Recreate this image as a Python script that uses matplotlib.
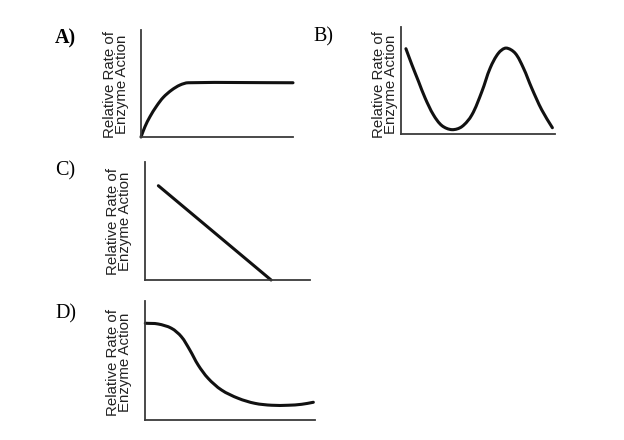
import matplotlib
matplotlib.use("Agg")
import matplotlib.pyplot as plt
import numpy as np
from matplotlib.path import Path
from matplotlib.patches import PathPatch

W, H = 624, 440

# curve shapes (x, y as fraction of each plot box)
a_x = [0.0, 0.026, 0.059, 0.103, 0.147, 0.202, 0.257, 0.311, 1.0]
a_y = [0.0, 0.096, 0.190, 0.290, 0.371, 0.439, 0.486, 0.507, 0.507]

b_x = [0.032, 0.071, 0.114, 0.157, 0.211, 0.266, 0.331, 0.395, 0.460,
       0.525, 0.579, 0.633, 0.682, 0.741, 0.795, 0.849, 0.914, 0.983]
b_y = [0.798, 0.648, 0.493, 0.338, 0.182, 0.082, 0.045, 0.073, 0.182,
       0.399, 0.618, 0.757, 0.804, 0.757, 0.618, 0.431, 0.229, 0.063]

c_x = [0.081, 0.764]
c_y = [0.799, 0.0]

d_x = [0.0, 0.075, 0.154, 0.213, 0.263, 0.312, 0.371, 0.450, 0.549,
       0.647, 0.746, 0.844, 0.923, 0.992]
d_y = [0.813, 0.807, 0.771, 0.700, 0.588, 0.462, 0.350, 0.252, 0.182,
       0.140, 0.124, 0.124, 0.132, 0.149]

labels = ["A)", "B)", "C)", "D)"]
ylabel = "Relative Rate of\nEnzyme Action"

# pixel boxes: left, top, right, bottom ; label pos ; ylabel center
panels = [
    ((141, 30, 293, 137), (55, 28), (116, 84), a_x, a_y, "bold"),
    ((401, 27, 555, 134.5), (313, 27), (385, 84), b_x, b_y, "normal"),
    ((145, 162, 310, 280), (55, 161), (119, 221), c_x, c_y, "normal"),
    ((145.3, 301, 314.7, 420), (55, 304), (119, 362), d_x, d_y, "normal"),
]


def smooth_path(xs, ys, aspect):
    # bezier path through the points (chord-length catmull-rom tangents)
    p = np.column_stack([xs, ys]).astype(float)
    if len(p) < 3:
        return Path(p)
    q = p * [1, aspect]
    d = np.linalg.norm(np.diff(q, axis=0), axis=1)
    m = np.zeros_like(p)
    m[0] = (p[1] - p[0]) / d[0]
    m[-1] = (p[-1] - p[-2]) / d[-1]
    for i in range(1, len(p) - 1):
        m[i] = (p[i + 1] - p[i - 1]) / (d[i - 1] + d[i])
    verts = [p[0]]
    codes = [Path.MOVETO]
    for i in range(len(p) - 1):
        verts += [p[i] + m[i] * d[i] / 3, p[i + 1] - m[i + 1] * d[i] / 3, p[i + 1]]
        codes += [Path.CURVE4] * 3
    return Path(verts, codes)


fig = plt.figure(figsize=(W / 100, H / 100), dpi=100)
fig.patch.set_facecolor("white")

for lab, (box, lpos, ypos, xs, ys, wt) in zip(labels, panels):
    l, t, r, b = box
    ax = fig.add_axes([l / W, 1 - b / H, (r - l) / W, (b - t) / H])
    ax.set_xlim(0, 1)
    ax.set_ylim(0, 1)
    path = smooth_path(xs, ys, (b - t) / (r - l))
    ax.add_patch(PathPatch(path, fill=False, edgecolor="#111111", lw=2.2,
                           clip_on=False, capstyle="round", joinstyle="round"))
    for s in ["top", "right"]:
        ax.spines[s].set_visible(False)
    for s in ["left", "bottom"]:
        ax.spines[s].set_color("#3a3a3a")
        ax.spines[s].set_linewidth(1.3)
    ax.set_xticks([])
    ax.set_yticks([])
    ax.patch.set_alpha(0)

    fig.text(lpos[0] / W, 1 - lpos[1] / H, lab, ha="left", va="top",
             family="Liberation Serif", fontsize=14.5, fontweight=wt)
    fig.text(ypos[0] / W, 1 - ypos[1] / H, ylabel, rotation=90,
             ha="center", va="center", ma="center", linespacing=0.85,
             family="Liberation Sans", fontsize=10.8, color="#222222")

fig.savefig("out.png", dpi=100, facecolor="white")
